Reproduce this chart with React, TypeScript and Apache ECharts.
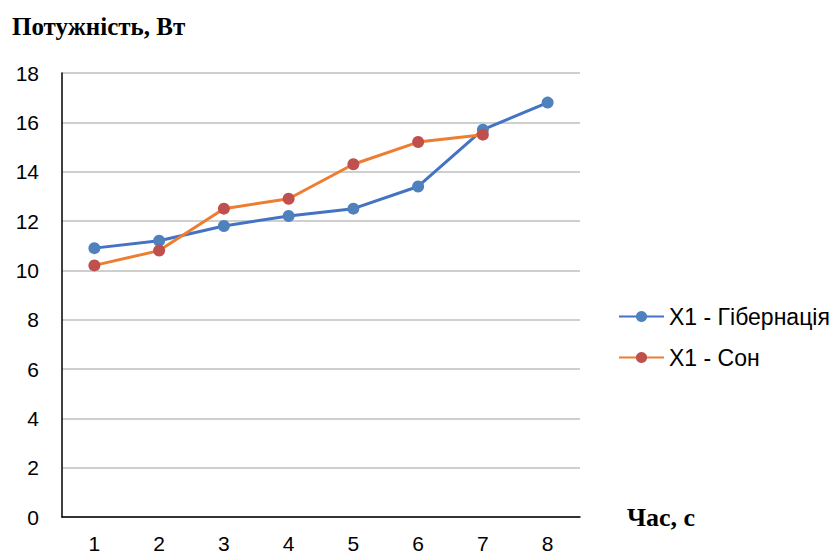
import React, { useEffect, useRef } from "react";
import * as echarts from "echarts";

const categories = ["1", "2", "3", "4", "5", "6", "7", "8"];
const hibernation = [10.9, 11.2, 11.8, 12.2, 12.5, 13.4, 15.7, 16.8];
const sleep = [10.2, 10.8, 12.5, 12.9, 14.3, 15.2, 15.5, null];
const seriesNames = ["X1 - Гібернація", "X1 - Сон"];

export default function App() {
  const ref = useRef<HTMLDivElement>(null);

  useEffect(() => {
    document.body.style.margin = "0";
    if (!ref.current) return;
    const chart = echarts.init(ref.current, null, { renderer: "svg" });
    const sans = "Liberation Sans, Arial, sans-serif";
    const serif = "Liberation Serif, Times New Roman, serif";
    chart.setOption({
      animation: false,
      backgroundColor: "#ffffff",
      title: {
        text: "Потужність, Вт",
        left: 12,
        top: 14,
        padding: 0,
        textStyle: { fontFamily: serif, fontWeight: "bold", fontSize: 25, color: "#000" },
      },
      legend: {
        orient: "vertical",
        left: 618,
        top: 305,
        padding: 0,
        itemWidth: 45,
        itemHeight: 14,
        itemGap: 18,
        textStyle: { fontFamily: sans, fontSize: 23, color: "#000" },
        data: seriesNames,
      },
      grid: { left: 62, right: 260, top: 73, bottom: 37, containLabel: false },
      xAxis: {
        type: "category",
        data: categories,
        boundaryGap: true,
        name: "Час, с",
        nameLocation: "end",
        nameGap: 47,
        nameTextStyle: {
          fontFamily: serif,
          fontWeight: "bold",
          fontSize: 26,
          color: "#000",
          verticalAlign: "middle",
        },
        axisLine: { lineStyle: { color: "#000", width: 1.5 } },
        axisTick: { show: false },
        axisLabel: { fontFamily: sans, fontSize: 21, color: "#000", margin: 16 },
      },
      yAxis: {
        type: "value",
        min: 0,
        max: 18,
        interval: 2,
        axisLine: { show: true, lineStyle: { color: "#000", width: 1.5 } },
        axisTick: { show: false },
        axisLabel: { fontFamily: sans, fontSize: 21, color: "#000", margin: 23 },
        splitLine: { lineStyle: { color: "#bfbfbf", width: 1.5 } },
      },
      series: [
        {
          name: seriesNames[0],
          type: "line",
          data: hibernation,
          symbol: "circle",
          symbolSize: 12,
          lineStyle: { color: "#4472c4", width: 3 },
          itemStyle: { color: "#4f81bd" },
        },
        {
          name: seriesNames[1],
          type: "line",
          data: sleep,
          symbol: "circle",
          symbolSize: 12,
          lineStyle: { color: "#ed7d31", width: 3 },
          itemStyle: { color: "#c0504d" },
        },
      ],
    });
    return () => chart.dispose();
  }, []);

  return <div ref={ref} style={{ width: 840, height: 554 }} />;
}
